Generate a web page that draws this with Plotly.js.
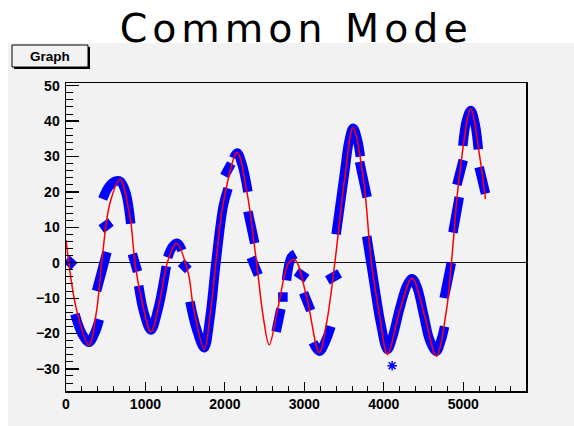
<!DOCTYPE html>
<html>
<head>
<meta charset="utf-8">
<script src="https://cdn.plot.ly/plotly-3.0.1.min.js"></script>
<style>
  html, body { margin: 0; padding: 0; background: #ffffff; }
  #chart { width: 574px; height: 426px; }
  .gtitle { letter-spacing: 5px; }
  .js-line { stroke-linecap: butt; }
</style>
</head>
<body>
<div id="chart"></div>
<script>
// ---- Fit curve (red) ----
const fitX = [0, 134, 289, 386, 449, 553, 679, 805, 868, 952, 1069, 1182, 1275, 1392, 1539, 1602,
  1740, 1812, 1887, 1979, 2155, 2273, 2399, 2482, 2558, 2671, 2805, 2881, 3028, 3187, 3279, 3384,
  3510, 3614, 3740, 3845, 3950, 4046, 4202, 4356, 4516, 4662, 4789, 4851, 4956, 5095, 5208, 5280];
const fitY = [6.4, -13.4, -23.3, -13.4, 0, 16.8, 23.5, 13, 0, -10.5, -19.5, -10.5, 0, 5.5, -3, -12.4,
  -24.5, -15.2, 0, 16.8, 31.1, 20.5, 0, -15.2, -23.2, -12.4, 0, 0.8, -9.6, -25.4, -17.1, 0,
  24.3, 38.2, 24.3, 0, -15.2, -25.9, -13.4, -4.4, -15.2, -26.4, -13.4, 0, 25.3, 43.4, 29.9, 18];

// ---- Measured points (blue), runs separated by null ----
const dataX = [8, 105, null,
  112, 200, 289, 360, 420, null,
  385, 450, 515, null,
  445, 565, null,
  462, 540, 620, 680, 750, 815, null,
  835, 900, null,
  915, 980, 1069, 1160, 1262, null,
  1280, 1340, 1400, 1460, null,
  1450, 1540, null,
  1560, 1640, 1740, 1812, 1887, 1979, 2040, null,
  1995, 2080, null,
  2110, 2155, 2220, 2290, null,
  2290, 2375, null,
  2330, 2420, null,
  2645, 2705, null,
  2670, 2790, null,
  2775, 2835, 2885, null,
  2900, 3030, null,
  2990, 3080, null,
  3110, 3190, 3270, 3335, null,
  3290, 3445, null,
  3400, 3455, 3510, 3560, 3614, 3665, 3705, null,
  3695, 3790, null,
  3785, 3845, 3900, 3960, 4046, 4110, 4200, 4290, 4356, 4420, 4500, 4580, 4662, 4720, 4765, null,
  4760, 4850, null,
  4870, 4950, null,
  4920, 5000, null,
  4995, 5040, 5095, 5150, 5190, null,
  5200, 5280];
const dataY = [1.0, -1.0, null,
  -14.5, -20, -22.5, -20, -16, null,
  -8, -2.5, 3, null,
  9.5, 11.5, null,
  18, 21.5, 23, 23, 20, 11, null,
  2.5, -2.5, null,
  -6.5, -14, -19, -13, -1, null,
  1.5, 4.5, 5.5, 3.5, null,
  0, -2, null,
  -11, -18.5, -24, -15.5, 0, 16, 21, null,
  24.5, 28, null,
  29.5, 31, 27.5, 20, null,
  14.5, 5.5, null,
  1.5, -3.5, null,
  -19.5, -13, null,
  -9.7, -9.7, null,
  -5, 1.5, 2.5, null,
  -2.5, -4.5, null,
  -8.5, -13.5, null,
  -22.5, -25, -22, -18, null,
  -5, -3, null,
  8, 17, 26, 34, 38, 35, 30, null,
  28.5, 18.5, null,
  7.5, -1, -9, -17, -24.5, -21, -13, -6.5, -4.5, -7, -14.5, -22, -25, -22, -18, null,
  -10, 0, null,
  8.5, 18.5, null,
  22, 29, null,
  33, 40, 43, 39, 32, null,
  27, 19.5];
const outlierX = [4105];
const outlierY = [-29.1];

const titleText = "Common Mode";
const boxText = "Graph";
const xTickVals = [0, 1000, 2000, 3000, 4000, 5000];
const yTickVals = [-30, -20, -10, 0, 10, 20, 30, 40, 50];

// ---- layout helpers (pixel -> paper) ----
const W = 574, H = 426, mL = 66, mR = 48, mT = 83, mB = 35;
const pw = W - mL - mR, ph = H - mT - mB;
const px = v => (v - mL) / pw;
const py = v => (H - mB - v) / ph;
const BG = '#f2f2f2';

const traces = [
  { x: dataX, y: dataY, type: 'scatter', mode: 'lines', connectgaps: false,
    line: { color: '#0000ff', width: 9.5, shape: 'spline', smoothing: 1 }, hoverinfo: 'skip' },
  { x: outlierX, y: outlierY, type: 'scatter', mode: 'markers',
    marker: { symbol: 'asterisk-open', size: 8, color: '#0000ff', line: { color: '#0000ff', width: 1.5 } } },
  { x: fitX, y: fitY, type: 'scatter', mode: 'lines',
    line: { color: '#ff0000', width: 1.5, shape: 'spline', smoothing: 1 } }
];

const tickFont = { family: 'Liberation Sans, Arial, sans-serif', size: 14, color: '#000', weight: 'bold' };

const layout = {
  width: W, height: H,
  margin: { l: mL, r: mR, t: mT, b: mB, pad: 0 },
  paper_bgcolor: '#ffffff',
  plot_bgcolor: BG,
  showlegend: false,
  title: { text: titleText, x: 0.516, xanchor: 'center', y: 0.935, yanchor: 'middle',
    font: { family: 'DejaVu Sans, sans-serif', size: 39.5, color: '#000' } },
  xaxis: {
    range: [0, 5790], tickvals: xTickVals, ticks: 'inside', ticklen: 9, tickwidth: 1.2, tickcolor: '#000',
    minor: { dtick: 200, tick0: 0, ticks: 'inside', ticklen: 5, tickcolor: '#000', tickwidth: 1 },
    showgrid: false, zeroline: false, showline: true, mirror: true, linecolor: '#000', linewidth: 1.5,
    tickfont: tickFont, ticklabelstandoff: 0
  },
  yaxis: {
    range: [-36.24, 50.76], tickvals: yTickVals, ticks: 'inside', ticklen: 13, tickwidth: 1.2, tickcolor: '#000',
    minor: { dtick: 2, tick0: 0, ticks: 'inside', ticklen: 7, tickcolor: '#000', tickwidth: 1 },
    showgrid: false, zeroline: true, zerolinecolor: '#111', zerolinewidth: 1.5,
    showline: true, mirror: true, linecolor: '#000', linewidth: 1.5,
    tickfont: tickFont, ticklabelstandoff: 2
  },
  shapes: [
    { type: 'rect', xref: 'paper', yref: 'paper', layer: 'below',
      x0: px(8), x1: px(W + 2), y0: py(H + 2), y1: py(43),
      fillcolor: BG, line: { width: 0 } },
    { type: 'rect', xref: 'paper', yref: 'paper',
      x0: px(14), x1: px(90), y0: py(69), y1: py(47),
      fillcolor: '#000', line: { width: 0 } },
    { type: 'rect', xref: 'paper', yref: 'paper',
      x0: px(12), x1: px(88), y0: py(67), y1: py(45),
      fillcolor: BG, line: { color: '#000', width: 1 } }
  ],
  annotations: [
    { text: boxText, xref: 'paper', yref: 'paper', x: px(50), y: py(56),
      xanchor: 'center', yanchor: 'middle', showarrow: false,
      font: { family: 'Liberation Sans, Arial, sans-serif', size: 13.5, color: '#000', weight: 'bold' } }
  ]
};

Plotly.newPlot('chart', traces, layout, { staticPlot: true, displayModeBar: false });
</script>
</body>
</html>
